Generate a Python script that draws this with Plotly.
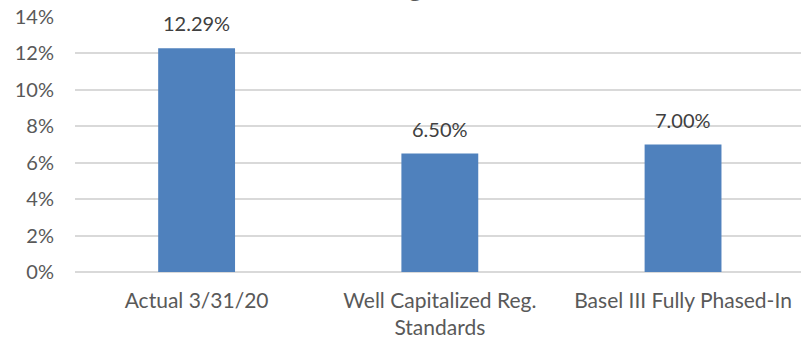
import plotly.graph_objects as go

categories = ["Actual 3/31/20", "Well Capitalized Reg.<br>Standards", "Basel III Fully Phased-In"]
values = [12.29, 6.50, 7.00]
value_labels = ["12.29%", "6.50%", "7.00%"]
tick_vals = [0, 2, 4, 6, 8, 10, 12, 14]
tick_text = ["0%", "2%", "4%", "6%", "8%", "10%", "12%", "14%"]
title_text = "Risk-Weighted Assets"

FONT = "Lato"
TXT = "#595959"

fig = go.Figure()
fig.add_trace(go.Bar(
    x=[0, 1, 2], y=values, marker=dict(color="#4f81bd", line=dict(width=0)),
    showlegend=False, hoverinfo="skip",
))

for i, (v, lab) in enumerate(zip(values, value_labels)):
    fig.add_annotation(x=i, y=v, xref="x", yref="y", text=lab, showarrow=False,
                       yshift=25, yanchor="middle",
                       font=dict(family=FONT, size=20, color="#404040"))

fig.add_annotation(x=(577 - 75) / 726, y=1 + (17 - 4) / 255, xref="paper", yref="paper",
                   xanchor="right", yanchor="bottom", text=title_text, showarrow=False,
                   font=dict(family=FONT, size=30, color=TXT))

fig.update_layout(
    width=801, height=342,
    margin=dict(l=75, r=0, t=17, b=70, pad=0),
    paper_bgcolor="white", plot_bgcolor="white",
    bargap=0.684,
    font=dict(family=FONT, size=20, color=TXT),
    xaxis=dict(range=[-0.5, 2.485], tickmode="array", tickvals=[0, 1, 2], ticktext=categories,
               showgrid=False, zeroline=False, showline=False, ticks="",
               ticklabelstandoff=14, tickfont=dict(family=FONT, size=21, color=TXT)),
    yaxis=dict(range=[0, 14], tickmode="array", tickvals=tick_vals, ticktext=tick_text,
               showgrid=True, gridcolor="#d9d9d9", gridwidth=1.5,
               zeroline=True, zerolinecolor="#d9d9d9", zerolinewidth=1.5,
               showline=False, ticks="", ticklabelstandoff=20,
               tickfont=dict(family=FONT, size=20, color=TXT)),
)

fig.write_html("out.html")
